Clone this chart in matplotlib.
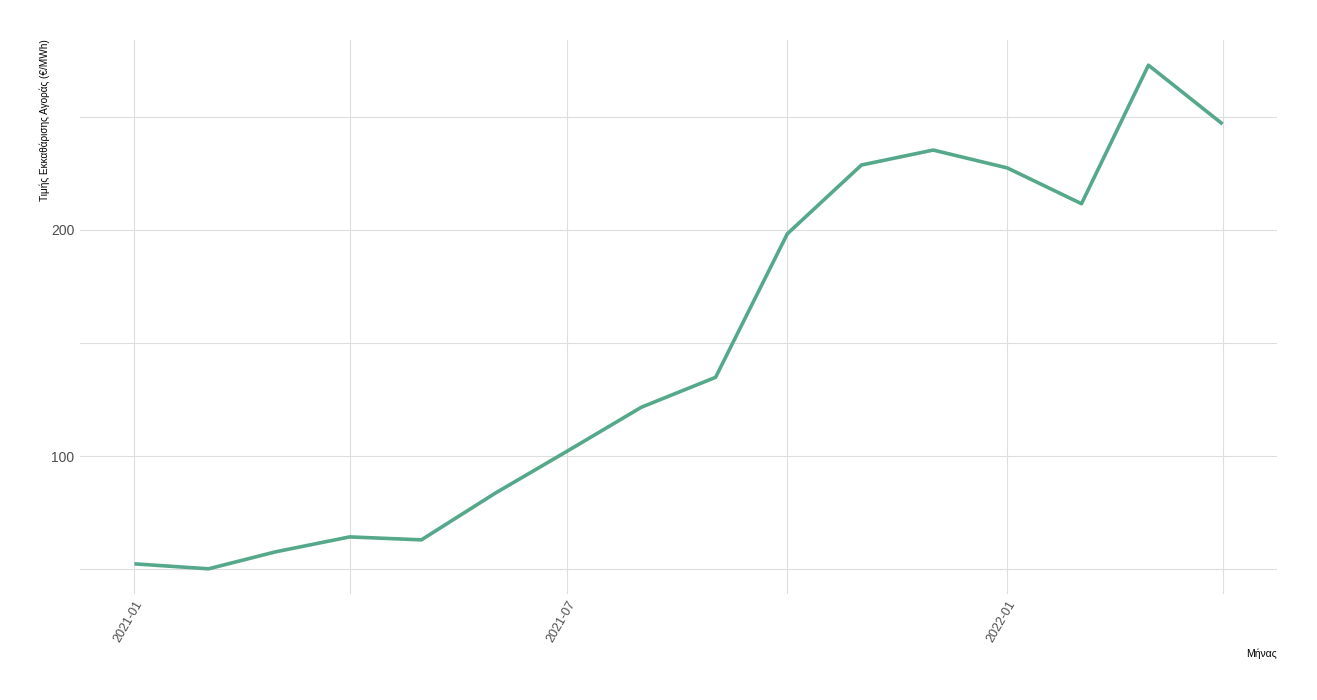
import matplotlib
matplotlib.use("Agg")
import matplotlib.pyplot as plt
import matplotlib.dates as mdates
import numpy as np
import pandas as pd

months = pd.date_range("2021-01-01", "2022-04-01", freq="MS")
prices = [52.4, 50.2, 57.7, 64.3, 63.0, 83.7, 102.2, 121.6, 134.8, 198.2,
          228.6, 235.2, 227.3, 211.5, 272.7, 246.7]
major_ticks = pd.to_datetime(["2021-01-01", "2021-07-01", "2022-01-01"])
minor_ticks = pd.to_datetime(["2021-04-01", "2021-10-01", "2022-04-01"])
y_major = [100, 200]
y_minor = [50, 150, 250]

fam = ["Liberation Sans Narrow", "Liberation Sans", "DejaVu Sans"]

fig = plt.figure(figsize=(13.17, 7.0), dpi=100)
ax = fig.add_axes([80/1317, 106/700, 1197/1317, 554/700])

ax.plot(months, prices, color="#55a98a", linewidth=2.6, solid_capstyle="butt", zorder=3)

x0, x1 = mdates.date2num(months[0]), mdates.date2num(months[-1])
pad = (x1 - x0) * 0.05
ax.set_xlim(x0 - pad, x1 + pad)
ymin, ymax = min(prices), max(prices)
ypad = (ymax - ymin) * 0.05
ax.set_ylim(ymin - ypad, ymax + ypad)

ax.set_xticks(major_ticks)
ax.set_xticks(minor_ticks, minor=True)
ax.xaxis.set_major_formatter(mdates.DateFormatter("%Y-%m"))
ax.set_yticks(y_major)
ax.set_yticks(y_minor, minor=True)

for s in ax.spines.values():
    s.set_visible(False)
ax.grid(True, which="both", color="#dedede", linewidth=0.8)
ax.set_axisbelow(True)
ax.tick_params(which="both", length=0)
ax.tick_params(axis="y", labelsize=10, labelcolor="#4d4d4d", pad=4)
ax.tick_params(axis="x", labelsize=9, labelcolor="#4d4d4d", pad=3)
for lab in ax.get_xticklabels():
    lab.set_rotation(60)
    lab.set_ha("right")
    lab.set_va("top")
    lab.set_rotation_mode("anchor")
    lab.set_family(fam)
for lab in ax.get_yticklabels():
    lab.set_family(fam)

fig.text(45/1317, 1 - 120/700, "Τιμής Εκκαθάρισης Αγοράς (€/MWh)", rotation=90,
         ha="center", va="center", fontsize=7.2, family=fam, color="black")
fig.text(1277/1317, 1 - 654/700, "Μήνας", ha="right", va="center",
         fontsize=7.5, family=fam, color="black")

fig.savefig("out.png", dpi=100, facecolor="white")
